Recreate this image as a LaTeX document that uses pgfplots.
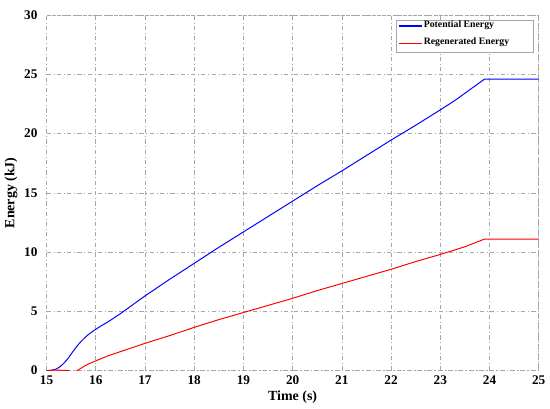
\documentclass[border=0pt]{standalone}
\usepackage{fontspec}
\setmainfont{Liberation Serif}
\usepackage{pgfplots}
\pgfplotsset{compat=1.18}
\definecolor{lgred}{RGB}{255,0,0}
\definecolor{lgblue}{RGB}{0,0,255}
\newcommand{\lgf}{\bfseries\fontsize{7}{8.5}\selectfont}
\begin{document}
\begin{tikzpicture}
\begin{axis}[
  scale only axis,
  width=353pt, height=255pt,
  xmin=15, xmax=25, ymin=0, ymax=30,
  xtick={15,...,25}, ytick={0,5,...,30},
  grid=major,
  major grid style={gray!70, dash dot, line width=0.4pt},
  axis line style={gray!70, dash dot},
  tick style={draw=none},
  ticklabel style={font=\bfseries\fontsize{9.5}{11}\selectfont},
  yticklabel style={xshift=-3pt},
  /pgf/number format/assume math mode=true,
  xlabel={\textbf{Time (s)}},
  ylabel={\textbf{Energy (kJ)}},
  label style={font=\bfseries\fontsize{10}{12}\selectfont},
  xlabel style={yshift=2pt},
  ylabel style={yshift=-2pt},
]
\addplot[color=blue, line width=0.7pt] coordinates {
(15,0) (15.05,0.01) (15.1,0.03) (15.15,0.08) (15.2,0.14) (15.25,0.26) (15.3,0.42) (15.35,0.62) (15.4,0.84) (15.45,1.1) (15.5,1.4) (15.55,1.68) (15.6,1.96) (15.65,2.22) (15.7,2.45) (15.75,2.66) (15.8,2.86) (15.85,3.04) (15.9,3.2) (15.95,3.35) (16,3.48) (16.1,3.75) (16.25,4.12) (16.5,4.8) (16.75,5.55) (17,6.3) (17.5,7.7) (18,9.05) (18.5,10.4) (19,11.7) (19.5,13.0) (20,14.3) (20.5,15.6) (21,16.85) (21.5,18.15) (22,19.45) (22.5,20.7) (23,22.0) (23.3,22.8) (23.6,23.7) (23.9,24.6) (25,24.6)
};
\addplot[color=red, line width=0.7pt] coordinates {
(15,0) (15.2,0.05) (15.45,0) (15.55,-0.2) (15.62,0) (15.7,0.2) (15.8,0.45) (15.9,0.65) (16,0.82) (16.25,1.25) (16.5,1.6) (16.75,1.95) (17,2.3) (17.5,2.95) (18,3.65) (18.5,4.3) (19,4.9) (19.5,5.5) (20,6.1) (20.5,6.75) (21,7.35) (21.5,7.95) (22,8.55) (22.5,9.2) (23,9.8) (23.5,10.45) (23.9,11.1) (25,11.1)
};
\draw[gray!70, fill=white] (rel axis cs:0.711,0.896) rectangle (rel axis cs:0.988,0.986);
\fill[lgblue] ([yshift=-0.45pt]rel axis cs:0.717,0.969) rectangle ([yshift=0.45pt]rel axis cs:0.762,0.969);
\fill[lgred] ([yshift=-0.45pt]rel axis cs:0.717,0.921) rectangle ([yshift=0.45pt]rel axis cs:0.762,0.921);
\node[anchor=west, inner sep=0pt, font=\lgf, text=black] at (rel axis cs:0.766,0.971) {Potential Energy};
\node[anchor=west, inner sep=0pt, font=\lgf, text=black] at (rel axis cs:0.766,0.923) {Regenerated Energy};
\end{axis}
\path ([yshift=10.8pt]current axis.north);
\end{tikzpicture}
\end{document}
